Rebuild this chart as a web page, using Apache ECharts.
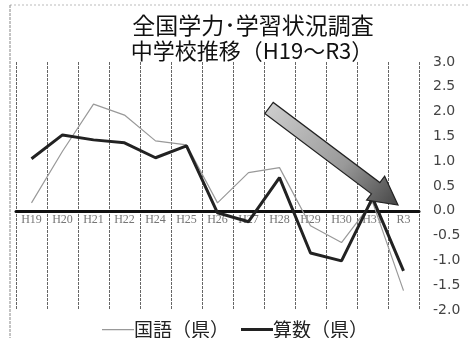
<!DOCTYPE html>
<html><head><meta charset="utf-8">
<script src="https://cdn.jsdelivr.net/npm/echarts@6/dist/echarts.min.js"></script>
<style>html,body{margin:0;padding:0;background:#fff}#c{width:470px;height:338px}</style>
</head><body><div id="c"></div>
<script>
const categories = ['H19','H20','H21','H22','H24','H25','H26','H27','H28','H29','H30','H31','R3'];
const kokugo = [0.16, 1.2, 2.15, 1.93, 1.41, 1.33, 0.16, 0.77, 0.87, -0.3, -0.64, 0.18, -1.61];
const sansu = [1.05, 1.53, 1.43, 1.37, 1.07, 1.31, -0.04, -0.22, 0.67, -0.85, -1.01, 0.26, -1.21];
const yTicks = ['3.0','2.5','2.0','1.5','1.0','0.5','0.0','-0.5','-1.0','-1.5','-2.0'];
const titleLines = ['全国学力･学習状況調査', '中学校推移（H19～R3）'];
const seriesNames = ['国語（県）', '算数（県）'];
const yMin = -2, yMax = 3;

function arrowPoints(t, p, headLen, headHalf, shaftHalf) {
  const dx = p[0]-t[0], dy = p[1]-t[1];
  const L = Math.hypot(dx, dy);
  const ux = dx/L, uy = dy/L, nx = -uy, ny = ux;
  const bx = p[0]-ux*headLen, by = p[1]-uy*headLen;
  return [
    [t[0]+nx*shaftHalf, t[1]+ny*shaftHalf],
    [bx+nx*shaftHalf, by+ny*shaftHalf],
    [bx+nx*headHalf, by+ny*headHalf],
    [p[0], p[1]],
    [bx-nx*headHalf, by-ny*headHalf],
    [bx-nx*shaftHalf, by-ny*shaftHalf],
    [t[0]-nx*shaftHalf, t[1]-ny*shaftHalf]
  ];
}

const gridTop = 62, gridBottom = 28, H = 338;
const gridH = H - gridTop - gridBottom;
const zeroOffset = -gridH * (0 - yMin) / (yMax - yMin);

const thinIcon = 'path://M0,0 L0.01,0 M0,5.6 L32,5.6 L32,6.8 L0,6.8 Z M32,12 L31.99,12';
const thickIcon = 'path://M0,0 L0.01,0 M0,4.6 L32,4.6 L32,7.6 L0,7.6 Z M32,12 L31.99,12';

const chart = echarts.init(document.getElementById('c'));
chart.setOption({
  backgroundColor: '#fff',
  animation: false,
  title: [
    {text: titleLines[0], left: 248, top: 9, textAlign: 'center',
     textStyle: {fontFamily: 'Noto Sans CJK JP', fontSize: 23, fontWeight: 'normal', color: '#111'}},
    {text: titleLines[1], left: 247, top: 35, textAlign: 'center',
     textStyle: {fontFamily: 'Noto Sans CJK JP', fontSize: 22, fontWeight: 'normal', color: '#111'}}
  ],
  legend: {
    top: 315, left: 'center', itemGap: 12, itemWidth: 32, itemHeight: 12,
    data: [
      {name: seriesNames[0], icon: thinIcon, itemStyle: {color: '#999'}},
      {name: seriesNames[1], icon: thickIcon, itemStyle: {color: '#222'}}
    ],
    textStyle: {fontFamily: 'Noto Sans CJK JP', fontSize: 19, color: '#222', padding: [0,0,0,-5]}
  },
  grid: {left: 16, right: 51, top: gridTop, bottom: gridBottom, containLabel: false},
  xAxis: {
    type: 'category', data: categories, boundaryGap: true,
    offset: zeroOffset,
    axisLine: {onZero: false, lineStyle: {color: '#111', width: 3}},
    axisTick: {show: false},
    axisLabel: {fontFamily: 'Liberation Serif', fontSize: 12, color: '#777', margin: 3, interval: 0},
    splitLine: {show: true, interval: 0, lineStyle: {color: '#666', width: 1, type: [3,1]}}
  },
  yAxis: {
    type: 'value', position: 'right', min: yMin, max: yMax, interval: 0.5,
    axisLine: {show: false}, axisTick: {show: false}, splitLine: {show: false},
    axisLabel: {margin: 14, fontFamily: 'DejaVu Sans', fontSize: 14, color: '#444',
      formatter: v => { const s = v.toFixed(1); return yTicks.includes(s) ? s : ''; }}
  },
  series: [
    {name: seriesNames[0], type: 'line', data: kokugo, symbol: 'none',
     lineStyle: {color: '#999', width: 1.2}, itemStyle: {color: '#999'}, z: 3},
    {name: seriesNames[1], type: 'line', data: sansu, symbol: 'none',
     lineStyle: {color: '#222', width: 3}, itemStyle: {color: '#222'}, z: 4}
  ],
  graphic: [
    {type: 'line', shape: {x1: 10, y1: 5, x2: 470, y2: 5}, style: {stroke: '#bbb', lineWidth: 1, lineDash: [2,2]}},
    {type: 'line', shape: {x1: 10, y1: 5, x2: 10, y2: 338}, style: {stroke: '#888', lineWidth: 1, lineDash: [3,1]}},
    {type: 'polygon', z: 10,
     shape: {points: arrowPoints([269,108], [398,205], 28, 15, 7)},
     style: {fill: {type: 'linear', x: 0, y: 0, x2: 1, y2: 1,
       colorStops: [{offset: 0, color: '#d0d0d0'}, {offset: 0.6, color: '#999'}, {offset: 1, color: '#444'}]},
       stroke: '#222', lineWidth: 1.2}}
  ]
});
</script></body></html>
